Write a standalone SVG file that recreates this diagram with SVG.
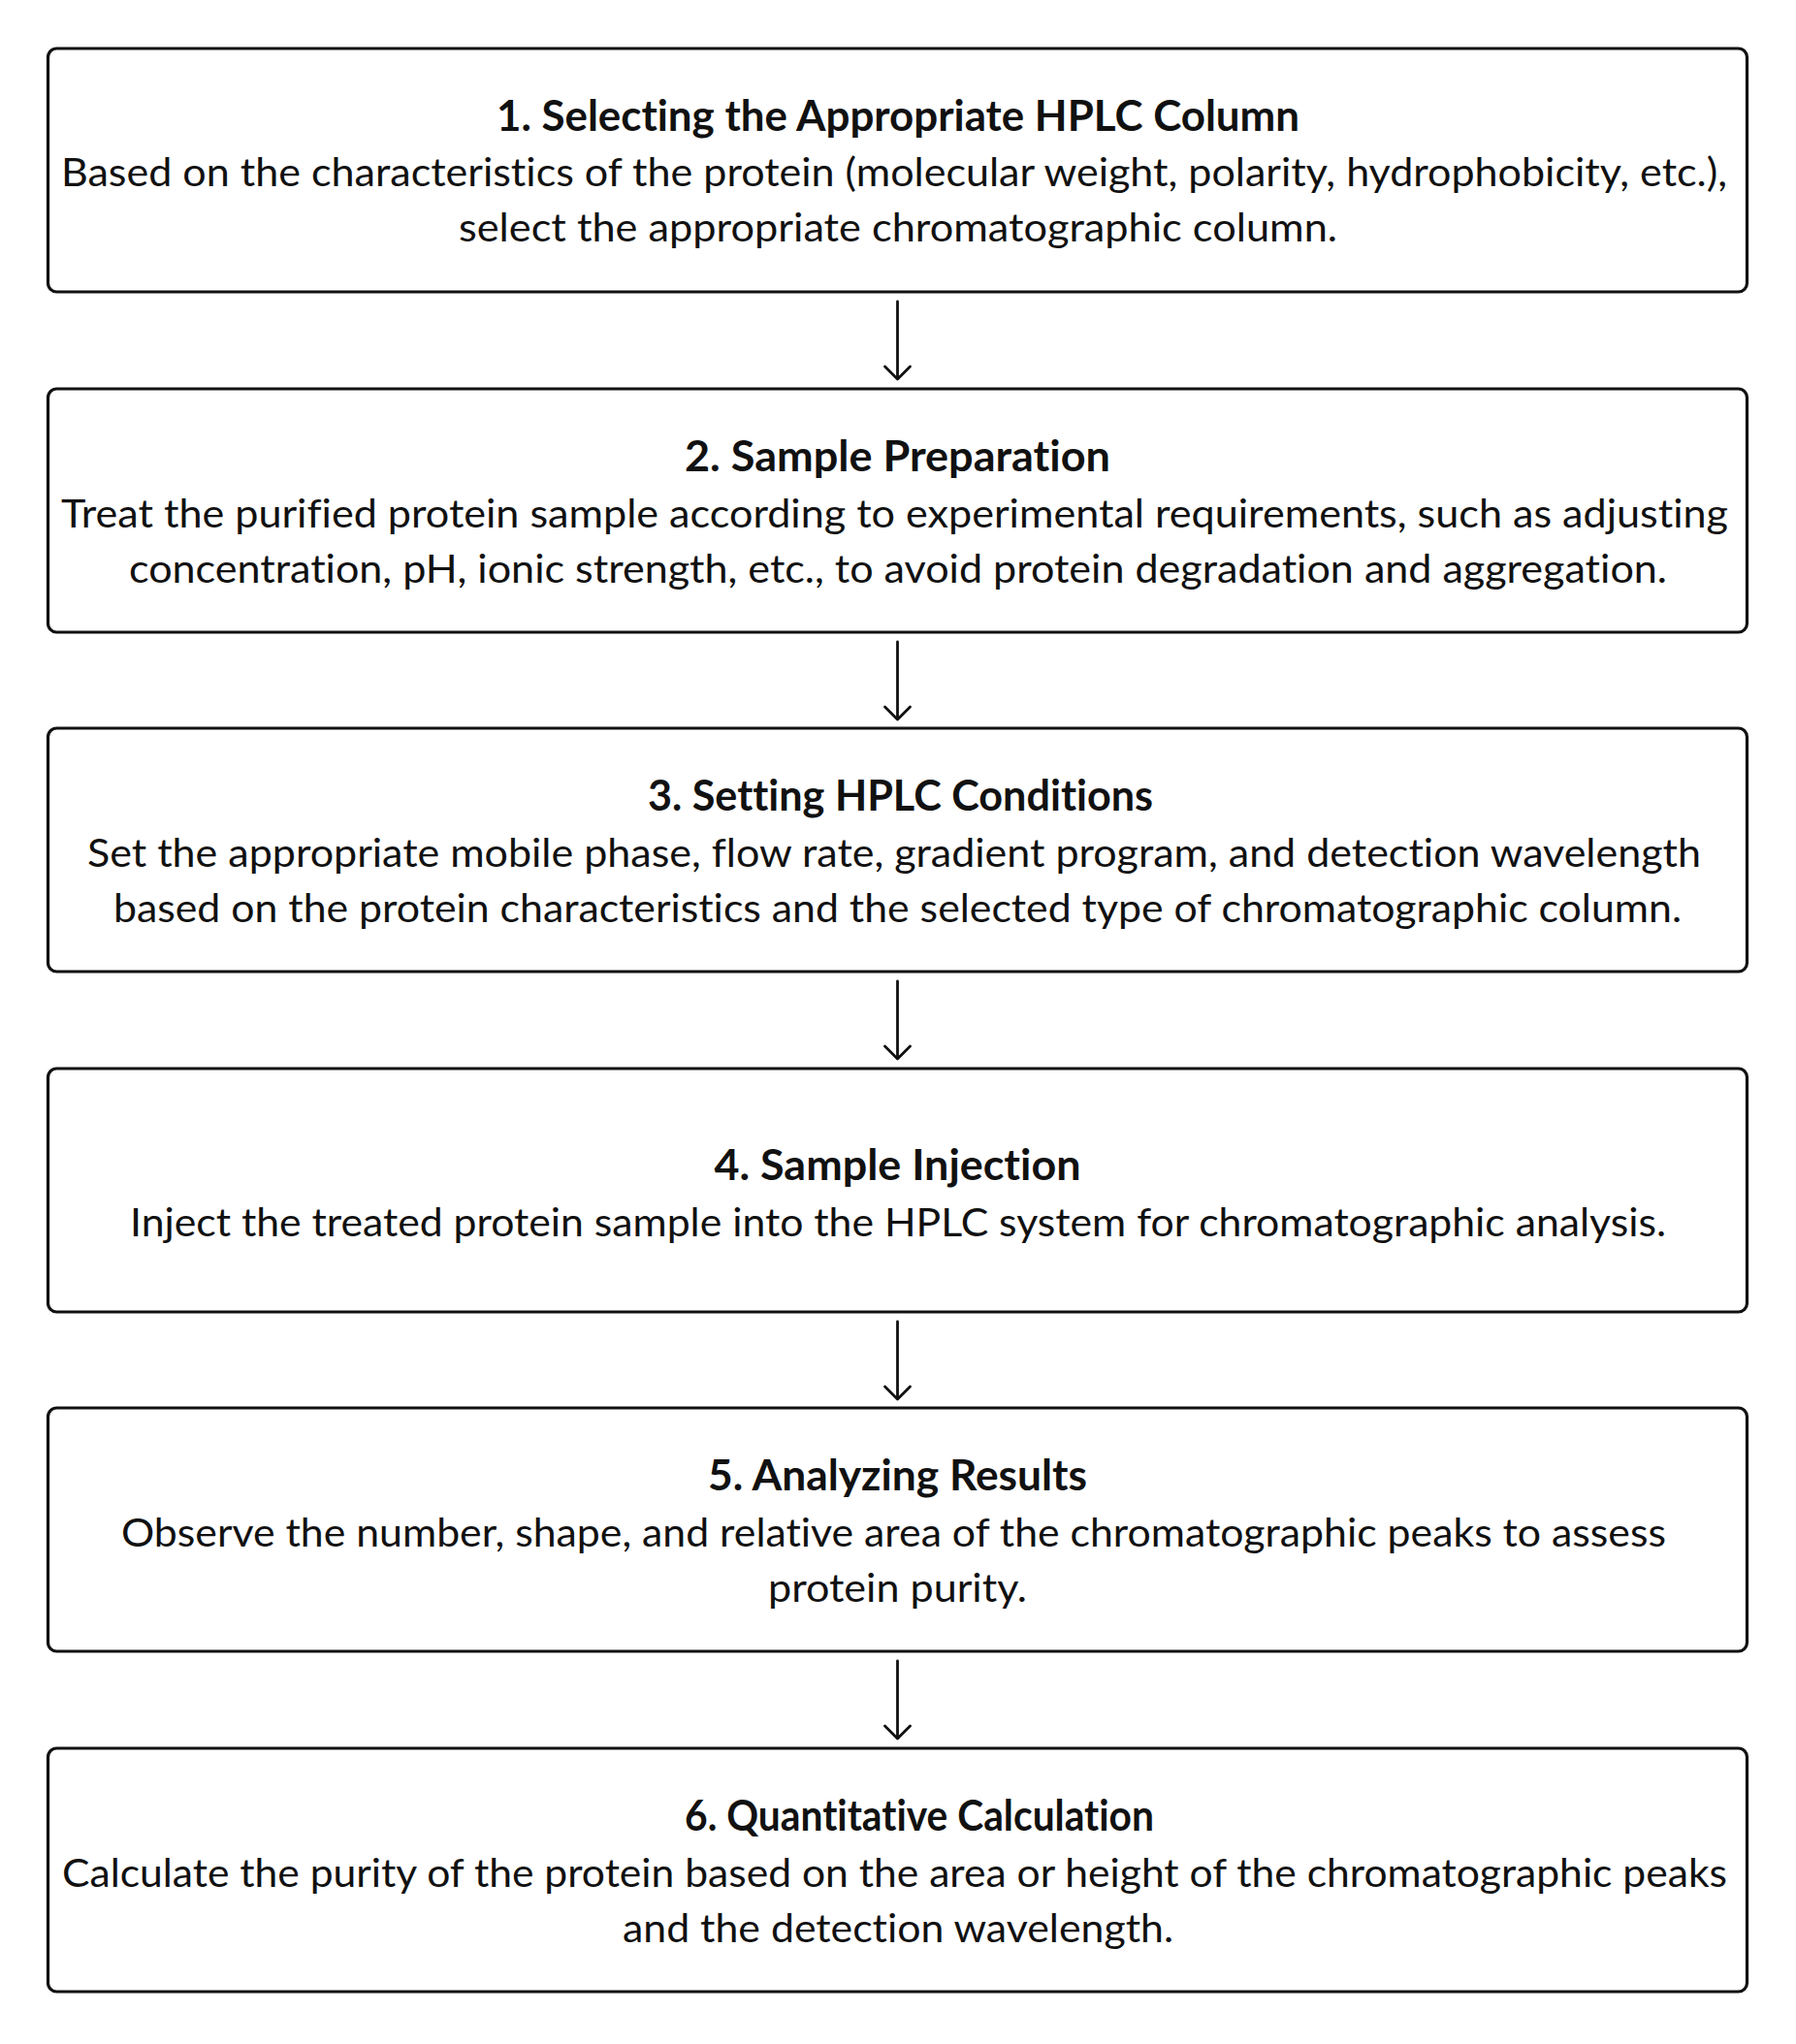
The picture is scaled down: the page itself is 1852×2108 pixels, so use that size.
<svg xmlns="http://www.w3.org/2000/svg" width="1852" height="2108" viewBox="0 0 1852 2108">
<style>
.box{fill:#fff;stroke:#111;stroke-width:3.2}
.t{font-family:Lato,"Liberation Sans",sans-serif;font-weight:700;font-size:43px;fill:#111;font-variant-ligatures:none}
.b{font-family:Lato,"Liberation Sans",sans-serif;font-weight:400;font-size:41px;fill:#111;font-variant-ligatures:none}
.c{fill:none;stroke:#111;stroke-width:2.8;stroke-linecap:round;stroke-linejoin:round}
</style>
<rect width="1852" height="2108" fill="#fff"/>
<g id="connectors">
<path class="c" d="M925.5 311V391M912.5 378L925.5 391L938.5 378"/>
<path class="c" d="M925.5 662V742M912.5 729L925.5 742L938.5 729"/>
<path class="c" d="M925.5 1012V1092M912.5 1079L925.5 1092L938.5 1079"/>
<path class="c" d="M925.5 1363V1443M912.5 1430L925.5 1443L938.5 1430"/>
<path class="c" d="M925.5 1713V1793M912.5 1780L925.5 1793L938.5 1780"/>
</g>
<g id="node1">
<rect class="box" x="49.5" y="50" width="1752" height="251" rx="9"/>
<text class="t" x="512" y="135" textLength="828" lengthAdjust="spacingAndGlyphs">1. Selecting the Appropriate HPLC Column</text>
<text class="b" x="63" y="192" textLength="1718" lengthAdjust="spacingAndGlyphs">Based on the characteristics of the protein (molecular weight, polarity, hydrophobicity, etc.),</text>
<text class="b" x="473" y="249" textLength="906" lengthAdjust="spacingAndGlyphs">select the appropriate chromatographic column.</text>
</g>
<g id="node2">
<rect class="box" x="49.5" y="401" width="1752" height="251" rx="9"/>
<text class="t" x="706" y="486" textLength="439" lengthAdjust="spacingAndGlyphs">2. Sample Preparation</text>
<text class="b" x="63" y="543.5" textLength="1719" lengthAdjust="spacingAndGlyphs">Treat the purified protein sample according to experimental requirements, such as adjusting</text>
<text class="b" x="133" y="601" textLength="1586" lengthAdjust="spacingAndGlyphs">concentration, pH, ionic strength, etc., to avoid protein degradation and aggregation.</text>
</g>
<g id="node3">
<rect class="box" x="49.5" y="751" width="1752" height="251" rx="9"/>
<text class="t" x="668" y="836" textLength="521" lengthAdjust="spacingAndGlyphs">3. Setting HPLC Conditions</text>
<text class="b" x="90" y="893.5" textLength="1664" lengthAdjust="spacingAndGlyphs">Set the appropriate mobile phase, flow rate, gradient program, and detection wavelength</text>
<text class="b" x="117" y="951" textLength="1617" lengthAdjust="spacingAndGlyphs">based on the protein characteristics and the selected type of chromatographic column.</text>
</g>
<g id="node4">
<rect class="box" x="49.5" y="1102" width="1752" height="251" rx="9"/>
<text class="t" x="736.5" y="1217" textLength="378" lengthAdjust="spacingAndGlyphs">4. Sample Injection</text>
<text class="b" x="134" y="1275" textLength="1584" lengthAdjust="spacingAndGlyphs">Inject the treated protein sample into the HPLC system for chromatographic analysis.</text>
</g>
<g id="node5">
<rect class="box" x="49.5" y="1452" width="1752" height="251" rx="9"/>
<text class="t" x="730" y="1537" textLength="391" lengthAdjust="spacingAndGlyphs">5. Analyzing Results</text>
<text class="b" x="125" y="1594.5" textLength="1593" lengthAdjust="spacingAndGlyphs">Observe the number, shape, and relative area of the chromatographic peaks to assess</text>
<text class="b" x="792" y="1652" textLength="267" lengthAdjust="spacingAndGlyphs">protein purity.</text>
</g>
<g id="node6">
<rect class="box" x="49.5" y="1803" width="1752" height="251" rx="9"/>
<text class="t" x="706" y="1888" textLength="484" lengthAdjust="spacingAndGlyphs">6. Quantitative Calculation</text>
<text class="b" x="64" y="1945.5" textLength="1717" lengthAdjust="spacingAndGlyphs">Calculate the purity of the protein based on the area or height of the chromatographic peaks</text>
<text class="b" x="642" y="2003" textLength="568" lengthAdjust="spacingAndGlyphs">and the detection wavelength.</text>
</g>
</svg>
